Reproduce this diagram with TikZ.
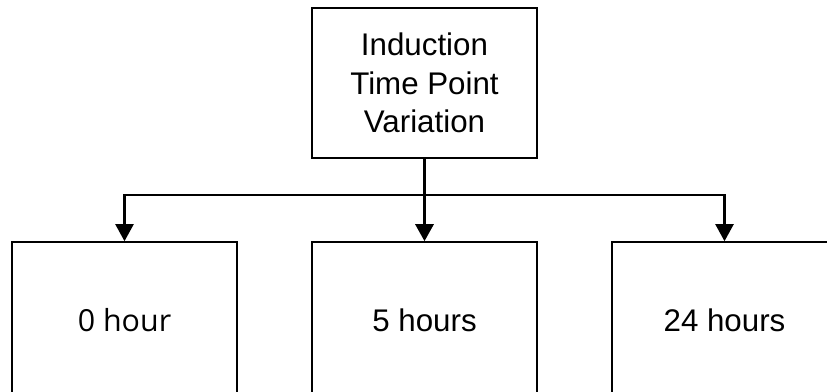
\documentclass[tikz,border=0pt]{standalone}
\usepackage{fontspec}
\setmainfont{Liberation Sans}
\newfontfamily\opensans{Open Sans}
\usetikzlibrary{arrows.meta}
\begin{document}
\begin{tikzpicture}[x=1pt,y=-1pt,
  box/.style={draw, line width=1.6pt, minimum width=225pt, minimum height=150pt,
    inner sep=0pt, align=center, font=\fontsize{31.3}{38.5}\selectfont},
  tall/.style={minimum height=156pt},
  link/.style={line width=2.2pt},
  trunk/.style={line width=3pt},
  tip/.style={-{Triangle[width=18pt,length=17pt]}}]
  \useasboundingbox (0,0) rectangle (827,391);
  \clip (0,0) rectangle (827,391);

  % parent box
  \node[box] (top) at (424.5,83) {Induction\\Time Point\\Variation};

  % time point boxes (run past the lower edge)
  \node[box, tall, font=\opensans\fontsize{30.4}{36}\selectfont] (h0) at (124.5,320) {0 hour};
  \node[box, tall] (h5) at (424.5,320) {5 hours};
  \node[box, tall] (h24) at (724.5,320) {24 hours};

  % connectors
  \coordinate (split) at (424.5,195);
  \draw[trunk, tip] (top.south) -- (h5.north);
  \draw[link, tip] (split) -| (h0.north);
  \draw[link, tip] (split) -| (h24.north);
\end{tikzpicture}
\end{document}
